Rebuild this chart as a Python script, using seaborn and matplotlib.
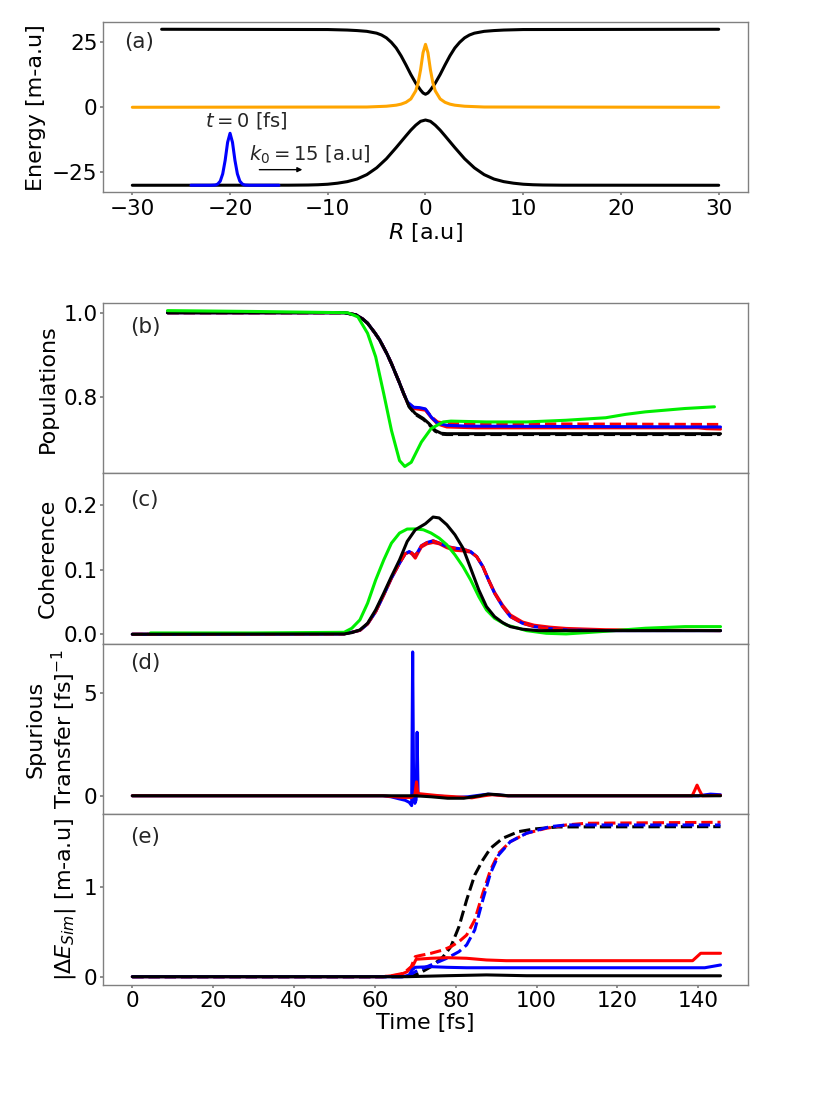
import numpy as np
import pandas as pd
import matplotlib
matplotlib.use("Agg")
import matplotlib.pyplot as plt
import seaborn as sns

sns.set_theme(style="ticks")
plt.rcParams.update({
    "font.family": ["DejaVu Sans"],
    "axes.edgecolor": "0.5",
    "axes.linewidth": 1.0,
    "xtick.color": "0.5",
    "ytick.color": "0.5",
    "xtick.labelcolor": "black",
    "ytick.labelcolor": "black",
    "xtick.major.size": 2.5,
    "ytick.major.size": 2.5,
    "xtick.major.pad": 2.0,
    "ytick.major.pad": 1.5,
    "xtick.labelsize": 15.5,
    "ytick.labelsize": 15.5,
    "axes.labelsize": 16,
    "axes.labelcolor": "black",
    "mathtext.fontset": "dejavusans",
})

# ---------------- panel (a): potential energy surfaces ----------------
R_up = [-27, -10, -8, -7, -6, -5, -4.5, -4, -3.5, -3, -2.5, -2, -1.5, -1, -0.5, -0.25, 0,
        0.25, 0.5, 1, 1.5, 2, 2.5, 3, 3.5, 4, 4.5, 5, 6, 7, 8, 10, 30]
E_up = [30, 29.9, 29.7, 29.5, 29.2, 28.5, 27.8, 26.7, 25.0, 22.8, 19.8, 16.3, 12.6, 9.3, 6.6,
        5.5, 5.0,
        5.5, 6.6, 9.3, 12.6, 16.3, 19.8, 22.8, 25.0, 26.7, 27.8, 28.5, 29.2, 29.5, 29.7, 29.9, 30]
R_lo = [-30, -14, -12, -11, -10, -9, -8, -7, -6, -5, -4, -3, -2, -1.5, -1, -0.5, 0,
        0.5, 1, 1.5, 2, 3, 4, 5, 6, 7, 8, 9, 10, 11, 12, 14, 30]
E_lo = [-30, -29.97, -29.9, -29.8, -29.6, -29.2, -28.6, -27.6, -25.9, -23.3, -19.8, -15.5,
        -11.0, -8.8, -6.9, -5.4, -4.9,
        -5.4, -6.9, -8.8, -11.0, -15.5, -19.8, -23.3, -25.9, -27.6, -28.6, -29.2, -29.6, -29.8,
        -29.9, -29.97, -30]
R_cp = [-30, -6, -4, -3, -2.5, -2, -1.5, -1, -0.75, -0.5, -0.25, 0,
        0.25, 0.5, 0.75, 1, 1.5, 2, 2.5, 3, 4, 6, 30]
E_cp = [0, 0.1, 0.4, 0.8, 1.2, 1.9, 3.2, 6.3, 9.5, 14.5, 21.0, 24.2,
        21.0, 14.5, 9.5, 6.3, 3.2, 1.9, 1.2, 0.8, 0.4, 0.1, 0]
R_wp = [-24, -22, -21.5, -21.25, -21, -20.75, -20.5, -20.25, -20, -19.75, -19.5,
        -19.25, -19, -18.75, -18.5, -18, -15]
E_wp = [-30, -30, -29.9, -29.5, -28.4, -25.6, -20.4, -13.5, -10, -13.5, -20.4,
        -25.6, -28.4, -29.5, -29.9, -30, -30]

# ---------------- panel (b): populations ----------------
tb_black = [8.7, 30, 52.4, 55.3, 57, 58.2, 60, 61.2, 63, 64.1, 66, 67.1, 68.5, 70.0, 71,
            72.0, 73.4, 74.9, 76.4, 77.8, 90, 145.5]
pb_black = [1.0, 1.0, 1.0, 0.995, 0.985, 0.975, 0.952, 0.935, 0.902, 0.879, 0.835, 0.808,
            0.776, 0.760, 0.754, 0.748, 0.736, 0.720, 0.713, 0.712, 0.712, 0.712]
tb_bdash = [8.7, 30, 52.4, 55.3, 57, 58.2, 60, 61.2, 63, 64.1, 66, 67.1, 68.5, 70.0, 71,
            72.0, 73.4, 74.9, 76.4, 77.8, 90, 145.5]
pb_bdash = [1.0, 1.0, 1.0, 0.995, 0.985, 0.975, 0.952, 0.935, 0.902, 0.879, 0.835, 0.808,
            0.776, 0.758, 0.752, 0.746, 0.734, 0.718, 0.711, 0.710, 0.710, 0.710]
tb_blue = [8.7, 30, 52.4, 55.3, 57, 58.2, 60, 61.2, 63, 64.1, 66, 67.1, 68.1, 69.6, 71.1,
           72.5, 74.0, 75.5, 77.8, 82.7, 145.5]
pb_blue = [1.0, 1.0, 1.0, 0.995, 0.985, 0.975, 0.952, 0.935, 0.902, 0.879, 0.835, 0.808,
           0.787, 0.775, 0.774, 0.771, 0.751, 0.737, 0.732, 0.730, 0.728]
tb_red = [8.7, 30, 52.4, 55.3, 57, 58.2, 60, 61.2, 63, 64.1, 66, 67.1, 68.1, 69.6, 71.1,
          72.5, 74.0, 75.5, 77.8, 85, 140, 142, 145.5]
pb_red = [1.0, 1.0, 1.0, 0.995, 0.985, 0.975, 0.952, 0.935, 0.902, 0.879, 0.835, 0.808,
          0.785, 0.772, 0.770, 0.768, 0.750, 0.735, 0.728, 0.726, 0.726, 0.724, 0.723]
tb_rdash = [8.7, 30, 52.4, 55.3, 57, 58.2, 60, 61.2, 63, 64.1, 66, 67.1, 68.1, 69.6, 71.1,
            72.5, 74.0, 75.5, 77.8, 145.5]
pb_rdash = [1.0, 1.0, 1.0, 0.995, 0.985, 0.975, 0.952, 0.935, 0.902, 0.879, 0.835, 0.808,
            0.786, 0.774, 0.772, 0.770, 0.752, 0.740, 0.736, 0.734]
tb_green = [8.7, 30, 53.3, 55.8, 58.2, 60.2, 62.2, 64.1, 66.1, 67.4, 69.0, 71.5, 73.9, 76.9,
            78.8, 87.6, 97.5, 107.3, 117.1, 122, 126.9, 136.7, 144]
pb_green = [1.005, 1.003, 1.0, 0.990, 0.951, 0.895, 0.807, 0.720, 0.648, 0.634, 0.644, 0.692,
            0.724, 0.740, 0.742, 0.740, 0.740, 0.744, 0.750, 0.758, 0.764, 0.772, 0.776]

# ---------------- panel (c): coherence ----------------
tc_black = [0, 52.4, 54.3, 56.3, 58.2, 60.2, 62.2, 64.1, 66.1, 68.0, 70.0, 72.5, 74.4, 75.9,
            77.8, 79.8, 81.8, 83.7, 85.7, 87.6, 89.6, 91.6, 93.5, 96.5, 100.4, 145.5]
cc_black = [0, 0.0005, 0.0025, 0.0067, 0.017, 0.0377, 0.0636, 0.0893, 0.115, 0.1436, 0.1617,
            0.171, 0.1814, 0.180, 0.1695, 0.154, 0.1333, 0.102, 0.0687, 0.0428, 0.0273, 0.018,
            0.0118, 0.0078, 0.0056, 0.0056]
tc_green = [4.5, 30, 52.4, 54.3, 56.3, 58.2, 60.2, 62.2, 64.1, 66.1, 68.0, 70.0, 72.0, 73.9,
            75.9, 77.8, 79.8, 81.8, 83.7, 85.7, 87.6, 89.6, 92.5, 95.5, 97.5, 102.4, 107.3,
            112.2, 117.1, 126.9, 136.7, 145.5]
cc_green = [0.002, 0.002, 0.003, 0.0093, 0.0222, 0.048, 0.084, 0.115, 0.141, 0.1566, 0.1628,
            0.163, 0.1617, 0.1566, 0.1488, 0.1385, 0.123, 0.1048, 0.084, 0.0583, 0.0377, 0.0248,
            0.0144, 0.0093, 0.0056, 0.0015, 0.0005, 0.0025, 0.0046, 0.0093, 0.0118, 0.0118]
tc_blue = [0, 52.4, 56.3, 58.2, 60.2, 62.2, 64.1, 66.1, 67.5, 68.5, 69.2, 69.8, 70.5, 71.5,
           72.9, 74.4, 75.9, 77.8, 79.8, 81.8, 83.7, 85.2, 86.7, 88.1, 89.6, 91.6, 93.5, 96.5,
           99.4, 103.3, 107.3, 117.1, 145.5]
cc_blue = [0, 0.0005, 0.006, 0.016, 0.035, 0.061, 0.0868, 0.110, 0.1245, 0.128, 0.1256, 0.1214,
           0.1262, 0.137, 0.142, 0.1447, 0.1412, 0.1358, 0.1333, 0.1318, 0.128, 0.120, 0.1048,
           0.084, 0.0636, 0.0428, 0.0273, 0.017, 0.0118, 0.0087, 0.0067, 0.0056, 0.0056]
tc_red = [0, 52.4, 56.3, 58.2, 60.2, 62.2, 64.1, 66.1, 67.5, 68.5, 69.2, 70.0, 70.6, 71.5,
          72.9, 74.4, 75.9, 77.8, 79.8, 81.8, 83.7, 85.2, 86.7, 88.1, 89.6, 91.6, 93.5, 96.5,
          99.4, 103.3, 107.3, 117.1, 145.5]
cc_red = [0, 0.0005, 0.006, 0.016, 0.035, 0.061, 0.0868, 0.110, 0.1245, 0.127, 0.124, 0.1178,
          0.125, 0.135, 0.140, 0.142, 0.140, 0.134, 0.130, 0.129, 0.127, 0.120, 0.1048,
          0.085, 0.065, 0.045, 0.030, 0.019, 0.014, 0.011, 0.009, 0.007, 0.0056]

# ---------------- panel (d): spurious transfer ----------------
td_blue = [0, 62, 64, 66, 67.5, 68.5, 69.1, 69.35, 69.6, 69.9, 70.2, 70.45, 70.7, 71.5, 75,
           78, 80, 83, 86, 88, 90, 93, 100, 140, 143, 145.5]
sd_blue = [0, 0, -0.05, -0.15, -0.22, -0.32, -0.48, 7.02, -0.1, -0.37, -0.2, 3.1, 0.0, 0.02,
           0, -0.05, -0.08, -0.05, 0.03, 0.08, 0.05, 0, 0, 0, 0.08, 0.05]
td_red = [0, 62, 65, 67, 69, 69.9, 70.3, 70.6, 71.0, 72, 76, 80, 84, 87, 89, 92, 100, 138.5,
          139.2, 139.7, 140.2, 141, 145.5]
sd_red = [0, 0, -0.05, -0.08, -0.08, 0.05, 0.68, 0.15, 0.1, 0.08, 0, -0.05, -0.1, 0, 0.05, 0,
          0, 0, 0.3, 0.52, 0.3, 0, 0.02]
td_black = [0, 70, 74, 78, 82, 86, 88, 90, 93, 145.5]
sd_black = [0, 0, -0.05, -0.12, -0.12, 0.0, 0.08, 0.06, 0, 0]

# ---------------- panel (e): |Delta E_sim| ----------------
te_kdash = [0, 62, 66, 69, 71.0, 73.9, 76.9, 78.8, 80.8, 82.7, 84.7, 86.7, 88.6, 91.6, 95.5,
            99.4, 105.3, 145.5]
ee_kdash = [0, 0, 0, 0.005, 0.038, 0.112, 0.224, 0.336, 0.559, 0.858, 1.137, 1.305, 1.436,
            1.548, 1.622, 1.652, 1.675, 1.678]
te_rdash = [0, 62, 64.1, 67.1, 69.0, 70.0, 71.0, 73.9, 76.9, 78.8, 80.8, 82.7, 84.7, 86.7,
            88.6, 90.6, 93.5, 97.5, 102.4, 107.3, 112.2, 145.5]
ee_rdash = [0, 0, 0.011, 0.038, 0.112, 0.224, 0.235, 0.262, 0.299, 0.336, 0.392, 0.466, 0.634,
            0.933, 1.193, 1.380, 1.510, 1.604, 1.66, 1.697, 1.716, 1.727]
te_bdash = [0, 68, 70.0, 71.9, 73.9, 77.8, 80.8, 82.7, 84.7, 86.7, 88.6, 90.6, 93.5, 97.5,
            103.3, 107.3, 145.5]
ee_bdash = [0, 0, 0.056, 0.094, 0.131, 0.206, 0.280, 0.355, 0.522, 0.858, 1.157, 1.361, 1.51,
            1.604, 1.678, 1.697, 1.697]
te_red = [0, 62, 66.1, 68.0, 69.5, 70.2, 73.9, 77.8, 82.7, 87.6, 92.5, 138.6, 140.6, 145.5]
ee_red = [0, 0, 0.019, 0.056, 0.131, 0.195, 0.206, 0.2126, 0.206, 0.187, 0.179, 0.179, 0.262,
          0.262]
te_blue = [0, 67, 68.5, 69.2, 70.0, 73.9, 77.8, 82.7, 141.6, 145.5]
ee_blue = [0, 0, 0.019, 0.075, 0.105, 0.112, 0.105, 0.10, 0.10, 0.131]
te_black = [0, 68, 77.8, 87.6, 97.5, 145.5]
ee_black = [0, 0, 0.011, 0.02, 0.011, 0.01]

LW = 2.2
GREEN = "#00ee00"
BLUE = "#0000ff"
RED = "#ff0000"
ORANGE = "#ffa500"


def line(ax, x, y, color, ls="-", lw=LW):
    df = pd.DataFrame({"x": x, "y": y})
    sns.lineplot(data=df, x="x", y="y", ax=ax, color=color, linestyle=ls, lw=lw,
                 sort=False, estimator=None)


fig = plt.figure(figsize=(8.30, 11.07), dpi=100)
L, W = 0.1241, 0.7771
ax_a = fig.add_axes([L, 0.8263, W, 0.1536])
ax_b = fig.add_axes([L, 0.5724, W, 0.1536])
ax_c = fig.add_axes([L, 0.4183, W, 0.1541])
ax_d = fig.add_axes([L, 0.2643, W, 0.1540])
ax_e = fig.add_axes([L, 0.1102, W, 0.1541])

# (a)
line(ax_a, R_up, E_up, "black")
line(ax_a, R_lo, E_lo, "black")
line(ax_a, R_cp, E_cp, ORANGE)
line(ax_a, R_wp, E_wp, BLUE)
ax_a.set_xlim(-33, 33)
ax_a.set_ylim(-32.7, 32.7)
ax_a.set_xticks([-30, -20, -10, 0, 10, 20, 30])
ax_a.set_yticks([-25, 0, 25])
ax_a.set_xlabel("$R$ [a.u]", labelpad=2)
ax_a.set_ylabel("Energy [m-a.u]")
ax_a.text(-18.35, -4.9, "$t = 0$ [fs]", ha="center", va="center", fontsize=14)
ax_a.text(-11.85, -18.4, "$k_0 = 15$ [a.u]", ha="center", va="center", fontsize=14)
ax_a.annotate("", xy=(-12.6, -24.0), xytext=(-17.0, -24.0),
              arrowprops=dict(arrowstyle="-|>", color="black", lw=1.0,
                              mutation_scale=7, shrinkA=0, shrinkB=0))
ax_a.text(0.033, 0.886, "(a)", transform=ax_a.transAxes, ha="left", va="center",
          fontsize=15.5)

# (b)
line(ax_b, tb_bdash, pb_bdash, "black", "--")
line(ax_b, tb_red, pb_red, RED)
line(ax_b, tb_rdash, pb_rdash, RED, "--")
line(ax_b, tb_blue, pb_blue, BLUE)
line(ax_b, tb_black, pb_black, "black")
line(ax_b, tb_green, pb_green, GREEN)
ax_b.set_ylim(0.6176, 1.0224)
ax_b.set_yticks([0.8, 1.0])
ax_b.set_ylabel("Populations")
ax_b.text(0.042, 0.862, "(b)", transform=ax_b.transAxes, ha="left", va="center",
          fontsize=15.5)

# (c)
line(ax_c, tc_red, cc_red, RED)
line(ax_c, tc_blue, cc_blue, BLUE)
line(ax_c, tc_blue, cc_blue, RED, "--", lw=2.0)
line(ax_c, tc_green, cc_green, GREEN)
line(ax_c, tc_black, cc_black, "black")
ax_c.set_ylim(-0.015, 0.249)
ax_c.set_yticks([0.0, 0.1, 0.2])
ax_c.set_ylabel("Coherence")
ax_c.text(0.042, 0.843, "(c)", transform=ax_c.transAxes, ha="left", va="center",
          fontsize=15.5)

# (d)
line(ax_d, td_blue, sd_blue, BLUE)
line(ax_d, td_red, sd_red, RED)
line(ax_d, td_black, sd_black, "black")
ax_d.set_ylim(-0.91, 7.41)
ax_d.set_yticks([0, 5])
ax_d.set_ylabel("Spurious\nTransfer [fs]$^{-1}$")
ax_d.text(0.042, 0.886, "(d)", transform=ax_d.transAxes, ha="left", va="center",
          fontsize=15.5)

# (e)
line(ax_e, te_kdash, ee_kdash, "black", "--")
line(ax_e, te_rdash, ee_rdash, RED, "--")
line(ax_e, te_bdash, ee_bdash, BLUE, "--")
line(ax_e, te_red, ee_red, RED)
line(ax_e, te_blue, ee_blue, BLUE)
line(ax_e, te_black, ee_black, "black")
ax_e.set_ylim(-0.093, 1.815)
ax_e.set_yticks([0, 1])
ax_e.set_ylabel("$|\\Delta E_{Sim}|$ [m-a.u]")
ax_e.set_xlabel("Time [fs]", labelpad=1)
ax_e.text(0.042, 0.869, "(e)", transform=ax_e.transAxes, ha="left", va="center",
          fontsize=15.5)

for ax in (ax_b, ax_c, ax_d, ax_e):
    ax.set_xlim(-7.25, 152.3)
    ax.set_xticks([0, 20, 40, 60, 80, 100, 120, 140])
for ax in (ax_b, ax_c, ax_d):
    ax.tick_params(labelbottom=False)
    ax.set_xlabel("")

for ax in (ax_a, ax_b, ax_c, ax_d, ax_e):
    for s in ax.spines.values():
        s.set_visible(True)
    leg = ax.get_legend()
    if leg is not None:
        leg.remove()

fig.savefig("out.png", dpi=100)
